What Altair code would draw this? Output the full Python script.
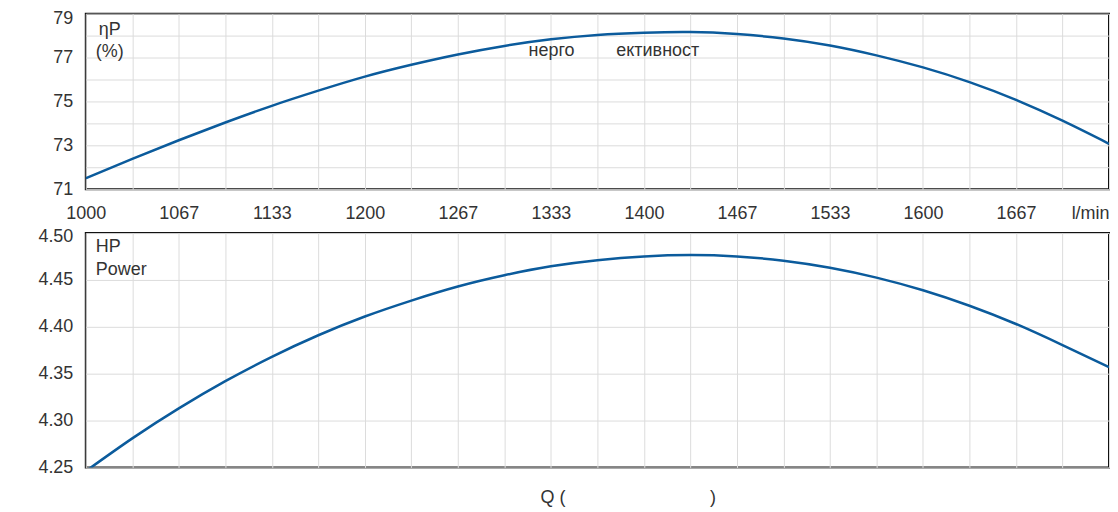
import altair as alt
import pandas as pd

# Flow rate (l/min)
flow = [1000, 1033.33, 1066.67, 1100, 1133.33, 1166.67, 1200, 1233.33, 1266.67, 1300,
        1333.33, 1366.67, 1400, 1433.33, 1466.67, 1500, 1533.33, 1566.67, 1600,
        1633.33, 1666.67, 1700, 1733.33]
# Efficiency (%)
efficiency = [71.5, 72.38, 73.23, 74.04, 74.80, 75.49, 76.13, 76.67, 77.14, 77.53,
              77.83, 78.03, 78.13, 78.16, 78.07, 77.87, 77.55, 77.10, 76.55,
              75.88, 75.07, 74.12, 73.07]
# Power (HP)
power = [4.246, 4.281, 4.313, 4.342, 4.368, 4.391, 4.411, 4.428, 4.443, 4.455,
         4.4645, 4.471, 4.475, 4.4765, 4.475, 4.4705, 4.463, 4.4525, 4.439,
         4.4225, 4.403, 4.3805, 4.357]

x_tick_labels = ["1000", "", "1067", "", "1133", "", "1200", "", "1267", "", "1333", "",
                 "1400", "", "1467", "", "1533", "", "1600", "", "1667", "", "l/min"]
x_grid = [1000 + k * 100 / 3 for k in range(23)]
eff_grid = [71, 72, 73, 74, 75, 76, 77, 78, 79]
pow_grid = [4.25, 4.30, 4.35, 4.40, 4.45, 4.50]

df = pd.DataFrame({"Q": flow, "eta": efficiency, "P": power})

FONT = "Liberation Sans"
LINE = "#0b5b9c"
TXT = "#333333"
FS = 18
W = 1026

js_labels = "[" + ",".join("'" + s + "'" for s in x_tick_labels) + "]"
xscale = alt.Scale(domain=[1000, 1000 + 2200 / 3], nice=False, zero=False)

x_top = alt.X("Q:Q", scale=xscale, title=None,
              axis=alt.Axis(values=x_grid, labelExpr=js_labels + "[round((datum.value-1000)*3/100)]",
                            labelAlign={"condition": {"test": "datum.value > 1700", "value": "right"}, "value": "center"},
                            labelPadding=15, grid=True))
x_bot = alt.X("Q:Q", scale=xscale, title=None,
              axis=alt.Axis(values=x_grid, labels=False, grid=True))

top_line = alt.Chart(df).mark_line(color=LINE, strokeWidth=2.5, interpolate="natural", clip=True).encode(
    x=x_top,
    y=alt.Y("eta:Q", scale=alt.Scale(domain=[71, 79], nice=False, zero=False), title=None,
            axis=alt.Axis(values=eff_grid, labelExpr="datum.value % 2 == 1 ? datum.label : ''",
                          labelOffset={"condition": {"test": "datum.value > 78.5", "value": 5}, "value": 0},
                          labelPadding=13, grid=True)),
)

def note(text, x, y, align="left", lh=23):
    return alt.Chart(alt.Data(values=[{}])).mark_text(
        text=text, lineBreak="\n", align=align, baseline="alphabetic", font=FONT,
        fontSize=FS, color=TXT, lineHeight=lh
    ).encode(x=alt.value(x), y=alt.value(y))

top = alt.layer(
    top_line,
    note("ηP\n(%)", 24, 21, align="center", lh=22),
    note("нерго", 444, 42),
    note("ективност", 532, 42),
).properties(width=W, height=176)

bot_line = alt.Chart(df).mark_line(color=LINE, strokeWidth=2.5, interpolate="natural", clip=True).encode(
    x=x_bot,
    y=alt.Y("P:Q", scale=alt.Scale(domain=[4.25, 4.50], nice=False, zero=False), title=None,
            axis=alt.Axis(values=pow_grid, format=".2f", labelPadding=13, grid=True,
                          labelOffset={"condition": {"test": "datum.value > 4.49", "value": 3}, "value": 0})),
)

bottom = alt.layer(
    bot_line,
    note("HP\nPower", 10, 19),
    note("Q (", 456, 271),
    note(")", 626, 271),
).properties(width=W, height=235)

chart = alt.vconcat(top, bottom, spacing=44, bounds="flush").properties(
    padding={"left": 28, "top": 0, "right": 0, "bottom": 0}
).configure_view(
    stroke="#111111", strokeWidth=2
).configure_axis(
    labelFont=FONT, labelFontSize=FS, labelColor=TXT, tickSize=0, ticks=False, domain=False,
    gridColor="#dcdcdc", gridWidth=1
).configure_text(font=FONT)

chart.save("out.html", embed_options={"renderer": "svg", "actions": False})
